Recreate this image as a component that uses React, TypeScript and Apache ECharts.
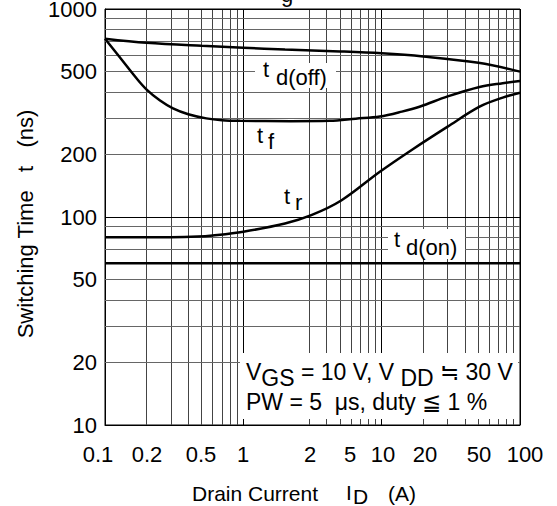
import { useEffect, useRef } from 'react';
import * as echarts from 'echarts';

// ---- data: drain current I_D (A) vs switching time t (ns) ----
const tdOffCurrent = [0.1, 0.2, 0.5, 1, 2, 5, 10, 20, 50, 100];
const tdOffTime = [720, 688, 665, 652, 638, 625, 612, 591, 551, 500];

const tfCurrent = [0.1, 0.13, 0.17, 0.2, 0.25, 0.31, 0.4, 0.54, 0.7, 0.95, 2.2, 4.2, 6.5, 9.7, 14, 19, 30, 51, 75, 100];
const tfTime = [720, 578, 462, 410, 363, 333, 312, 298, 292, 290, 289, 290, 297, 304, 321, 340, 380, 422, 440, 451];

const trCurrent = [0.1, 0.3, 0.47, 0.6, 1, 2, 3.1, 5.1, 9.7, 17, 30, 51, 75, 100];
const trTime = [80, 80, 80.5, 81.5, 85, 93, 102, 120, 165, 213, 272, 339, 375, 396];

const tdOnCurrent = [0.1, 100];
const tdOnTime = [60, 60];

// grid lines and tick labels
const xGridValues = [0.2, 0.3, 0.4, 0.5, 0.6, 0.7, 0.8, 0.9, 3, 4, 5, 6, 7, 8, 9, 20, 30, 40, 50, 60, 70, 80, 90];
const yGridValues = [20, 30, 40, 50, 60, 70, 80, 90, 200, 300, 400, 500, 600, 700, 800, 900];
const yDecades = [10, 100, 1000];
const yTickValues = [10, 20, 50, 100, 200, 500, 1000];
const xTickLabels = ['0.1', '0.2', '0.5', '1', '2', '5', '10', '20', '50', '100'];

// layout (pixel centres of the x tick labels as printed)
const xTickLabelPx = [98, 147, 201, 243, 310, 350, 383, 425, 479, 525];

const FONT = '"Liberation Sans", Arial, Helvetica, sans-serif';

export default function App() {
  const ref = useRef<HTMLDivElement>(null);
  useEffect(() => {
    const chart = echarts.init(ref.current!, null, { renderer: 'svg' });
    const zip = (xs: number[], ys: number[]) => xs.map((x, i) => [x, ys[i]]);
    const curve = (name: string, xs: number[], ys: number[]) => ({
      name,
      type: 'line',
      data: zip(xs, ys),
      symbol: 'none',
      smooth: 0.35,
      lineStyle: { color: '#000', width: 2.5 },
      z: 5,
      silent: true,
    });
    const markX = xGridValues.map((v) => ({
      xAxis: v,
      lineStyle: { color: '#444', width: 1, type: 'solid' },
      label: { show: false },
    }));
    const markY = [...yGridValues, ...yDecades].map((v) => ({
      yAxis: v,
      lineStyle: { color: yDecades.includes(v) ? '#000' : '#666', width: 1, type: 'solid' },
      label: {
        show: yTickValues.includes(v),
        formatter: String(v),
        position: 'start',
        distance: 8,
        fontSize: 22,
        color: '#000',
        fontFamily: FONT,
      },
    }));

    const txt = (text: string, x: number, y: number, extra: any = {}) => ({
      type: 'text',
      x,
      y,
      z: 20,
      silent: true,
      style: {
        text,
        fill: '#000',
        fontSize: 22,
        fontFamily: FONT,
        align: 'left',
        verticalAlign: 'middle',
        ...extra,
      },
    });
    const white = (x: number, y: number, w: number, h: number) => ({
      type: 'rect',
      z: 15,
      silent: true,
      shape: { x, y, width: w, height: h },
      style: { fill: '#fff' },
    });
    const boxRich = {
      n: { fontSize: 23, fontFamily: FONT, lineHeight: 23, verticalAlign: 'top', fill: '#000' },
      s: { fontSize: 23, fontFamily: FONT, lineHeight: 35, fill: '#000' },
    };

    const graphic: any[] = [
      // tick labels on x
      ...xTickLabels.map((t, i) => txt(t, xTickLabelPx[i], 454, { align: 'center' })),
      // cut-off title fragment
      txt('g', 287, 5, { align: 'center', verticalAlign: 'bottom' }),
      // curve labels
      white(255, 63, 81, 25),
      txt('t', 263, 69),
      txt('d(off)', 276, 77),
      txt('t', 257, 135),
      txt('f', 268, 141),
      txt('t', 284, 196),
      txt('r', 295, 202),
      white(388, 229, 77, 30),
      txt('t', 394, 239),
      txt('d(on)', 406, 247),
      // condition box
      white(240, 353, 278, 66),
      txt('{n|V}{s|GS}{n| = 10 V, V }{s|DD}{n| ≒ 30 V}', 246, 360, { verticalAlign: 'top', rich: boxRich }),
      txt('PW = 5  μs, duty ≦ 1 %', 246, 402, { fontSize: 23 }),
      // axis titles
      {
        type: 'text',
        x: 25,
        y: 224,
        rotation: Math.PI / 2,
        z: 20,
        silent: true,
        style: {
          text: 'Switching Time   t   (ns)',
          fill: '#000',
          fontSize: 22,
          fontFamily: FONT,
          align: 'center',
          verticalAlign: 'middle',
        },
      },
      txt('Drain Current', 192, 493, { fontSize: 21 }),
      txt('I', 346, 492, { fontSize: 21 }),
      txt('D', 353, 496, { fontSize: 21 }),
      txt('(A)', 388, 493, { fontSize: 21 }),
    ];

    chart.setOption({
      animation: false,
      backgroundColor: '#fff',
      grid: { left: 105, right: 37, top: 9, bottom: 81, show: true, borderColor: '#000', borderWidth: 1 },
      xAxis: {
        type: 'log',
        logBase: 10,
        min: 0.1,
        max: 100,
        axisLine: { show: true, lineStyle: { color: '#000', width: 1 } },
        axisTick: { show: false },
        axisLabel: { show: false },
        splitLine: { show: true, lineStyle: { color: '#000', width: 1 } },
      },
      yAxis: {
        type: 'log',
        logBase: 10,
        min: 10,
        max: 1000,
        axisLine: { show: true, lineStyle: { color: '#000', width: 1 } },
        axisTick: { show: false },
        axisLabel: { show: false },
        splitLine: { show: true, lineStyle: { color: '#000', width: 1 } },
      },
      series: [
        {
          name: 'grid',
          type: 'line',
          data: [],
          z: 1,
          silent: true,
          markLine: {
            silent: true,
            symbol: ['none', 'none'],
            animation: false,
            data: [...markX, ...markY],
          },
        },
        curve('td(off)', tdOffCurrent, tdOffTime),
        curve('tf', tfCurrent, tfTime),
        curve('tr', trCurrent, trTime),
        curve('td(on)', tdOnCurrent, tdOnTime),
      ],
      graphic,
    });
    return () => chart.dispose();
  }, []);
  return <div ref={ref} style={{ position: 'absolute', left: 0, top: 0, width: 557, height: 506 }} />;
}
